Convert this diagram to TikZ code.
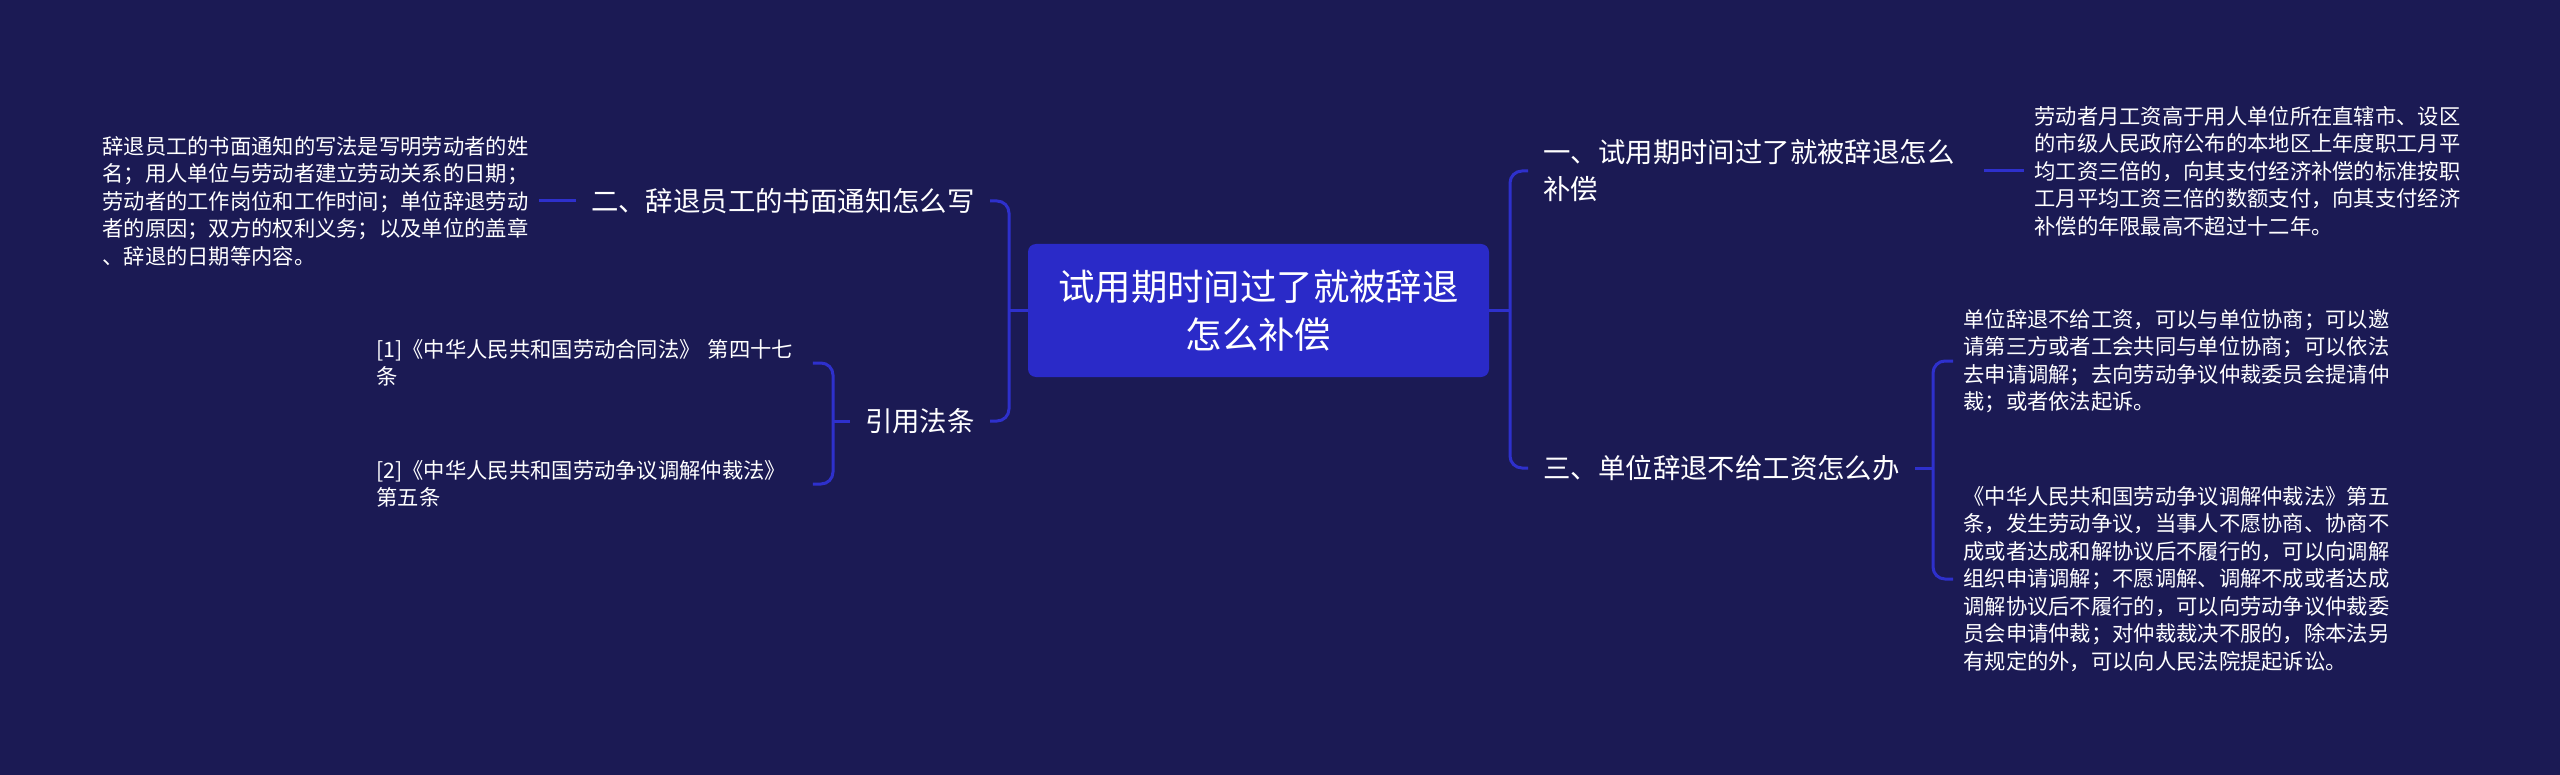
\documentclass[tikz,border=0pt]{standalone}
\usepackage{fontspec}
\setmainfont{Noto Sans CJK SC}
\definecolor{bgc}{RGB}{27,26,84}
\definecolor{rootc}{RGB}{42,42,200}
\definecolor{linec}{RGB}{46,48,204}
\begin{document}
\begin{tikzpicture}[x=0.5pt,y=-0.5pt,
  conn/.style={draw=linec, line width=1.5pt, rounded corners=6pt},
  leaf/.style={text=white, font=\fontsize{10.65pt}{13.75pt}\selectfont, align=left, text width=213pt, inner xsep=5pt, inner ysep=0pt},
  branch/.style={text=white, font=\fontsize{13.7pt}{18.5pt}\selectfont, align=left, inner xsep=7.5pt, inner ysep=2pt},
  rootbox/.style={fill=rootc, rounded corners=4pt, text=white, font=\fontsize{18.2pt}{24pt}\selectfont, align=center, minimum width=230.5pt, minimum height=66.5pt, inner sep=0pt}]
\useasboundingbox (0,0) rectangle (2560,775);
\fill[bgc] (0,0) rectangle (2560,775);

% root
\node[rootbox] (root) at (1258.5,310.5) {试用期时间过了就被辞退\\怎么补偿};

% left branches
\node[branch, anchor=east] (b2) at (990,201) {二、辞退员工的书面通知怎么写};
\node[branch, anchor=east] (b4) at (990,421) {引用法条};
\node[leaf, anchor=west] (l2) at (92,201) {辞退员工的书面通知的写法是写明劳动者的姓\\名；用人单位与劳动者建立劳动关系的日期；\\劳动者的工作岗位和工作时间；单位辞退劳动\\者的原因；双方的权利义务；以及单位的盖章\\、辞退的日期等内容。};
\node[leaf, anchor=west] (lr1) at (366,363) {[1]《中华人民共和国劳动合同法》 第四十七\\条};
\node[leaf, anchor=west] (lr2) at (366,484) {[2]《中华人民共和国劳动争议调解仲裁法》\\第五条};

% right branches
\node[branch, anchor=west, text width=212.5pt] (b1) at (1528,171) {一、试用期时间过了就被辞退怎么\\补偿};
\node[branch, anchor=west] (b3) at (1528,468) {三、单位辞退不给工资怎么办};
\node[leaf, anchor=west] (l1) at (2024,171) {劳动者月工资高于用人单位所在直辖市、设区\\的市级人民政府公布的本地区上年度职工月平\\均工资三倍的，向其支付经济补偿的标准按职\\工月平均工资三倍的数额支付，向其支付经济\\补偿的年限最高不超过十二年。};
\node[leaf, anchor=west] (l3a) at (1953,361) {单位辞退不给工资，可以与单位协商；可以邀\\请第三方或者工会共同与单位协商；可以依法\\去申请调解；去向劳动争议仲裁委员会提请仲\\裁；或者依法起诉。};
\node[leaf, anchor=west] (l3b) at (1953,579) {《中华人民共和国劳动争议调解仲裁法》第五\\条，发生劳动争议，当事人不愿协商、协商不\\成或者达成和解协议后不履行的，可以向调解\\组织申请调解；不愿调解、调解不成或者达成\\调解协议后不履行的，可以向劳动争议仲裁委\\员会申请仲裁；对仲裁裁决不服的，除本法另\\有规定的外，可以向人民法院提起诉讼。};

% junction coordinates
\coordinate (tl) at (1009,310.5);
\coordinate (tr) at (1510,310.5);
\coordinate (t4) at (833,421);
\coordinate (t3) at (1933,468);

% connectors
\draw[conn] (root.west) -- (tl);
\draw[conn] (b2.east) -| (tl) |- (b4.east);
\draw[conn] (root.east) -- (tr);
\draw[conn] (b1.west) -| (tr) |- (b3.west);
\draw[conn] (l2.east) -- (b2.west);
\draw[conn] (b4.west) -- (t4);
\draw[conn] (lr1.east) -| (t4) |- (lr2.east);
\draw[conn] (b1.east) -- (l1.west);
\draw[conn] (b3.east) -- (t3);
\draw[conn] (l3a.west) -| (t3) |- (l3b.west);
\end{tikzpicture}
\end{document}
